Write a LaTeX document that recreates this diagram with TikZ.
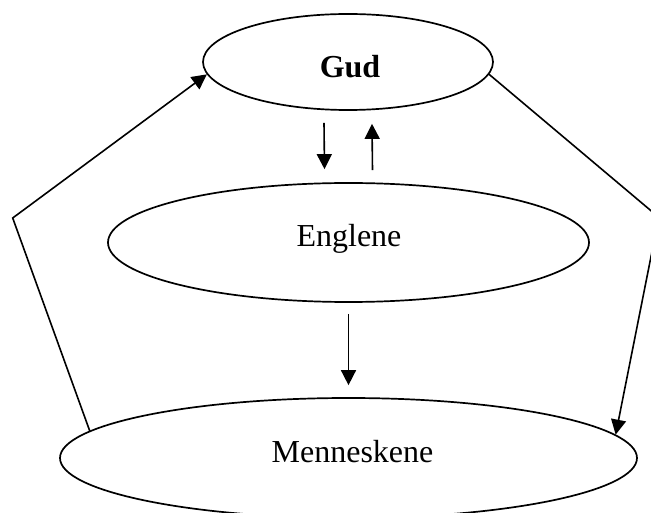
\documentclass[tikz,border=0pt]{standalone}
\usepackage{fontspec}
\setmainfont{Liberation Serif}
\usetikzlibrary{arrows.meta,shapes.geometric}
\tikzset{
  oval/.style={draw, ellipse, line width=1.7pt, inner sep=0pt},
  lbl/.style={anchor=base, inner sep=0pt, font=\fontsize{32}{38}\selectfont},
  conn/.style={line width=1.6pt},
  arr/.style={conn, -{Triangle[length=15pt,width=15pt]}}
}
\begin{document}
\begin{tikzpicture}[x=1pt,y=-1pt]
\useasboundingbox (0,0) rectangle (651,513);
\clip (0,0) rectangle (651,513);
\node[oval, minimum width=290pt, minimum height=96pt] (gud) at (348,62) {};
\node[oval, minimum width=481pt, minimum height=119pt] (engl) at (348.5,242.5) {};
\node[oval, minimum width=577pt, minimum height=120pt] (menn) at (348.5,458) {};
\node[lbl] (gudt) at (350,78) {\bfseries Gud};
\node[lbl] (englt) at (349,247) {Englene};
\node[lbl] (mennt) at (352.5,462) {Menneskene};
\coordinate (lbend) at (12.7,218);
\coordinate (rbend) at (658.8,217.3);
% Gud <-> Englene
\draw[arr] ([xshift=-24pt,yshift=-12pt]gud.south) -- ([xshift=-24pt,yshift=13pt]engl.north);
\draw[arr] ([xshift=24pt,yshift=12pt]engl.north) -- ([xshift=24pt,yshift=-13pt]gud.south);
% Englene -> Menneskene
\draw[arr] ([yshift=-11pt]engl.south) -- ([yshift=12pt]menn.north);
% outer loops
\draw[arr] (menn.174.6) -- (lbend) -- (gud.185.6);
\draw[arr] (gud.355.2) -- (rbend) -- (menn.5.4);
\end{tikzpicture}
\end{document}
